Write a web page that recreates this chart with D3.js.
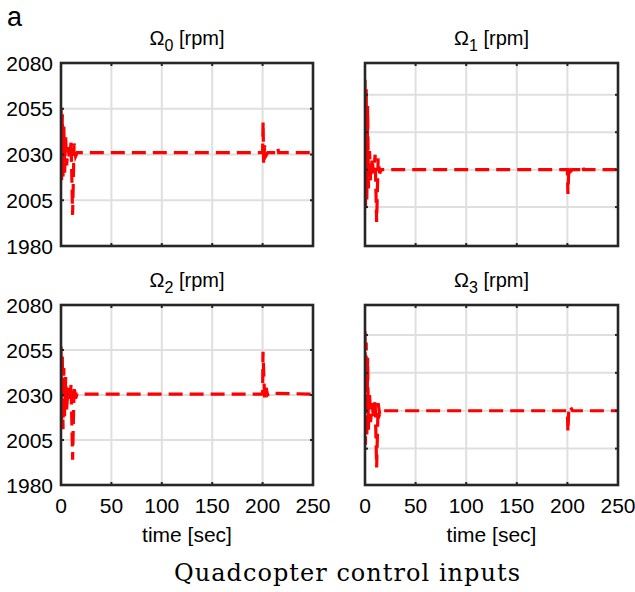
<!DOCTYPE html>
<html>
<head>
<meta charset="utf-8">
<script src="https://cdn.jsdelivr.net/npm/d3@7"></script>
<style>
  body { margin: 0; background: #fff; }
  text { font-family: "Liberation Sans", Arial, sans-serif; fill: #000; }
</style>
</head>
<body>
<script>
'use strict';

// time ticks shared by all four panels
const timeTicks = [0, 50, 100, 150, 200, 250];

// left column shows labelled rpm ticks, right column only grid
const leftTicks = [1980, 2005, 2030, 2055, 2080];
const rightTicks = [2000, 2010, 2020, 2030];

// [time (s), rotor speed (rpm)]
const omega0 = [[0,2055],[0.6,2016],[1.3,2052],[2,2018],[2.8,2046],[3.6,2020],[4.6,2040],[5.6,2024],
  [7,2034],[8.5,2027],[10,2037],[11.5,1997],[13,2036],[14.5,2029],[16,2031],[200,2031],[200.5,2048],
  [201,2025],[202,2035],[203,2029],[205,2031],[214,2031],[215,2033.5],[216,2031],[250,2031]];
const omega1 = [[0,2034],[0.5,2000],[1.2,2032],[1.8,2002],[2.6,2027],[3.4,2005],[4.5,2015],[5.5,2007],
  [7,2013],[8.5,2009],[10,2014],[11.5,1996],[13,2013],[14.5,2009],[16,2010],[200,2010],[200.5,2003.5],
  [201.5,2011],[203,2009.5],[205,2010],[214,2010],[215,2011],[216,2010],[250,2010]];
const omega2 = [[0,2057],[0.6,2014],[1.3,2052],[2,2011],[2.8,2045],[3.6,2018],[4.6,2040],[5.6,2022],
  [7,2034],[8.5,2026],[10,2036],[11.5,1994],[13,2035],[14.5,2028],[16,2030.5],[200,2030.5],[200.4,2054],
  [202,2028],[203.5,2034],[205,2030],[207,2031],[250,2030.5]];
const omega3 = [[0,2031],[0.5,2001],[1.2,2028],[1.8,2003],[2.6,2024],[3.4,2005],[4.5,2015],[5.5,2007],
  [7,2012],[8.5,2008],[10,2013],[11.5,1995],[13,2012],[14.5,2009],[16,2010],[200,2010],[200.5,2004.5],
  [201.5,2011],[203,2011],[205,2010],[250,2010]];

const titles = ['0', '1', '2', '3'];

const svg = d3.select('body').append('svg')
  .attr('width', 635)
  .attr('height', 592);

// panel boxes in pixels
const panels = [
  {data: omega0, sub: titles[0], x: [61, 313], y: [63, 246], dom: [1980, 2080], ticks: leftTicks, yLab: true, xLab: false},
  {data: omega1, sub: titles[1], x: [365, 618], y: [63, 246], dom: [1989.6, 2038.5], ticks: rightTicks, yLab: false, xLab: false},
  {data: omega2, sub: titles[2], x: [61, 313], y: [305, 485], dom: [1980, 2080], ticks: leftTicks, yLab: true, xLab: true},
  {data: omega3, sub: titles[3], x: [365, 618], y: [305, 485], dom: [1990.4, 2037.9], ticks: rightTicks, yLab: false, xLab: true}
];

panels.forEach(drawPanel);

function drawPanel(p) {
  let xScale = d3.scaleLinear().domain([0, 250]).range(p.x);
  let yScale = d3.scaleLinear().domain(p.dom).range([p.y[1], p.y[0]]);
  let g = svg.append('g');

  // grid
  g.selectAll('.gx').data(timeTicks).enter().append('line')
    .attr('x1', (d) => xScale(d)).attr('x2', (d) => xScale(d))
    .attr('y1', p.y[0]).attr('y2', p.y[1])
    .attr('stroke', '#dfdfdf').attr('stroke-width', 2);
  g.selectAll('.gy').data(p.ticks).enter().append('line')
    .attr('x1', p.x[0]).attr('x2', p.x[1])
    .attr('y1', (d) => yScale(d)).attr('y2', (d) => yScale(d))
    .attr('stroke', '#dfdfdf').attr('stroke-width', 2);

  // data line, clipped to the box
  let clipId = 'clip' + p.sub;
  svg.append('clipPath').attr('id', clipId).append('rect')
    .attr('x', p.x[0]).attr('y', p.y[0])
    .attr('width', p.x[1] - p.x[0]).attr('height', p.y[1] - p.y[0]);

  let line = d3.line()
    .x((d) => xScale(d[0]))
    .y((d) => yScale(d[1]));

  g.append('path')
    .datum(p.data)
    .attr('clip-path', 'url(#' + clipId + ')')
    .attr('fill', 'none')
    .attr('stroke', '#ff0000')
    .attr('stroke-width', 3.2)
    .attr('stroke-dasharray', '14,7')
    .attr('d', line);

  // inward ticks on all four sides
  let tl = 3;
  let tickCol = '#262626';
  timeTicks.forEach((t) => {
    g.append('line').attr('x1', xScale(t)).attr('x2', xScale(t))
      .attr('y1', p.y[1]).attr('y2', p.y[1] - tl).attr('stroke', tickCol).attr('stroke-width', 2);
    g.append('line').attr('x1', xScale(t)).attr('x2', xScale(t))
      .attr('y1', p.y[0]).attr('y2', p.y[0] + tl).attr('stroke', tickCol).attr('stroke-width', 2);
  });
  p.ticks.forEach((t) => {
    g.append('line').attr('x1', p.x[0]).attr('x2', p.x[0] + tl)
      .attr('y1', yScale(t)).attr('y2', yScale(t)).attr('stroke', tickCol).attr('stroke-width', 2);
    g.append('line').attr('x1', p.x[1]).attr('x2', p.x[1] - tl)
      .attr('y1', yScale(t)).attr('y2', yScale(t)).attr('stroke', tickCol).attr('stroke-width', 2);
  });

  // box
  g.append('rect')
    .attr('x', p.x[0]).attr('y', p.y[0])
    .attr('width', p.x[1] - p.x[0]).attr('height', p.y[1] - p.y[0])
    .attr('fill', 'none').attr('stroke', tickCol).attr('stroke-width', 2.6);

  // tick labels
  if (p.yLab) {
    g.selectAll('.yl').data(p.ticks).enter().append('text')
      .attr('x', p.x[0] - 8).attr('y', (d) => yScale(d) + 7.5)
      .attr('text-anchor', 'end')
      .style('font-size', '21px')
      .text((d) => d);
  }
  if (p.xLab) {
    g.selectAll('.xl').data(timeTicks).enter().append('text')
      .attr('x', (d) => xScale(d)).attr('y', p.y[1] + 28)
      .attr('text-anchor', 'middle')
      .style('font-size', '21px')
      .text((d) => d);
    g.append('text')
      .attr('x', (p.x[0] + p.x[1]) / 2).attr('y', p.y[1] + 57)
      .attr('text-anchor', 'middle')
      .style('font-size', '21px')
      .text('time [sec]');
  }

  // panel title with subscript
  let title = g.append('text')
    .attr('x', (p.x[0] + p.x[1]) / 2).attr('y', p.y[0] - 18)
    .attr('text-anchor', 'middle')
    .style('font-size', '20px');
  title.append('tspan').text('\u03a9');
  title.append('tspan').attr('dy', 6).style('font-size', '16px').text(p.sub);
  title.append('tspan').attr('dy', -6).text('\u00a0[rpm]');
}

// panel letter
svg.append('text')
  .attr('x', 7).attr('y', 26)
  .style('font-size', '27px')
  .text('a');

// figure caption
svg.append('text')
  .attr('x', 347).attr('y', 581)
  .attr('text-anchor', 'middle')
  .attr('textLength', 346)
  .attr('lengthAdjust', 'spacing')
  .style('font-family', '"DejaVu Serif", "Liberation Serif", serif')
  .style('font-size', '24px')
  .text('Quadcopter control inputs');
</script>
</body>
</html>
